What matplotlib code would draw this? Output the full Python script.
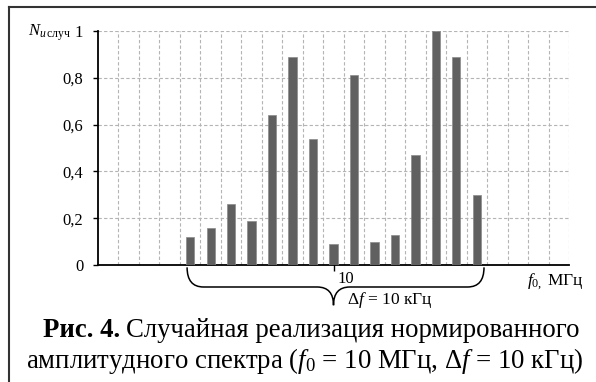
import matplotlib.pyplot as plt
from matplotlib.lines import Line2D
from matplotlib.path import Path
from matplotlib.patches import PathPatch

plt.rcParams['font.family'] = ['Liberation Serif', 'DejaVu Serif']
plt.rcParams['mathtext.fontset'] = 'custom'
plt.rcParams['mathtext.rm'] = 'Liberation Serif'
plt.rcParams['mathtext.it'] = 'Liberation Serif:italic'
plt.rcParams['mathtext.bf'] = 'Liberation Serif:bold'

# spectrum: 23 frequency slots, 15 of them filled (slot 11 is f0 = 10 MHz)
n_slots = 23
slots = list(range(4, 19))
amps = [0.12, 0.16, 0.26, 0.19, 0.64, 0.89, 0.54, 0.09,
        0.81, 0.10, 0.13, 0.47, 1.00, 0.89, 0.30]
center_slot = 11
center_label = "10"
y_ticks = [0, 0.2, 0.4, 0.6, 0.8, 1]
y_labels = ["0", "0,2", "0,4", "0,6", "0,8", "1"]

W, H = 596, 382
fig = plt.figure(figsize=(W / 100, H / 100), dpi=100)
ax = fig.add_axes([98 / W, 117 / H, 471 / W, 234 / H])

ax.bar(slots, amps, width=0.4, color="#606060", edgecolor="#8a8a8a",
       linewidth=0.5, zorder=3)

ax.set_xlim(-0.5, n_slots - 0.5)
ax.set_ylim(0, 1)

# dashed grid on slot borders and on the y ticks
ax.set_xticks([k - 0.5 for k in range(1, n_slots + 1)], minor=True)
ax.grid(True, which="minor", axis="x", color="#b4b4b4", linestyle=(0, (3, 2)),
        linewidth=0.8)
ax.grid(True, which="major", axis="y", color="#b4b4b4", linestyle=(0, (3, 2)),
        linewidth=0.8)
ax.tick_params(axis="x", which="minor", length=0)

ax.set_xticks([center_slot])
ax.set_xticklabels([""])
ax.tick_params(axis="x", which="major", direction="inout", length=8, width=1)
ax.text(center_slot + 0.2, -0.025, center_label, ha="left", va="top",
        fontsize=12)

ax.set_yticks(y_ticks)
ax.set_yticklabels(y_labels, fontsize=12)
ax.tick_params(axis="y", direction="out", length=3.6, width=1, pad=7)

for s in ["top", "right"]:
    ax.spines[s].set_visible(False)
for s in ["left", "bottom"]:
    ax.spines[s].set_linewidth(1.3)
    ax.spines[s].set_color("black")

# y axis name to the left of the "1"
fig.text(28 / W, 1 - 36 / H, r"$N_{\mathit{и}\,\mathrm{случ}}$",
         ha="left", va="baseline", fontsize=12)

# x axis name
fig.text(527 / W, 1 - 285 / H, r"$f_{0,}$ МГц", ha="left", va="baseline",
         fontsize=12.5)

# brace under the filled slots
xl, xr, xc = 3.85, 18.35, center_slot
y0, y1, y2 = -0.01, -0.094, -0.172
verts = [(xl, y0), (xl, y1), (xl + 0.8, y1), (xc - 0.8, y1),
         (xc, y1), (xc, y2), (xc, y1), (xc + 0.8, y1),
         (xr - 0.8, y1), (xr, y1), (xr, y0)]
codes = [Path.MOVETO, Path.CURVE3, Path.CURVE3, Path.LINETO,
         Path.CURVE3, Path.CURVE3, Path.CURVE3, Path.CURVE3,
         Path.LINETO, Path.CURVE3, Path.CURVE3]
ax.add_patch(PathPatch(Path(verts, codes), facecolor="none",
                       edgecolor="black", linewidth=1.1, clip_on=False))
fig.text(347 / W, 1 - 304 / H, r"$\Delta f$ = 10 кГц", ha="left",
         va="baseline", fontsize=12.5)

# frame
fig.add_artist(Line2D([9 / W, 1], [1 - 7 / H, 1 - 7 / H],
                      color="#333333", linewidth=1.5))
fig.add_artist(Line2D([9 / W, 9 / W], [0, 1 - 7 / H],
                      color="#333333", linewidth=1.5))

# caption: bold "Рис. 4." + regular text, line centred at x = 311
fig.canvas.draw()
r = fig.canvas.get_renderer()
cap_size = 19.3
t1 = fig.text(0, 1 - 337 / H, "Рис. 4.", fontsize=cap_size,
              fontweight="bold", va="baseline", ha="left")
t2 = fig.text(0, 1 - 337 / H, "Случайная реализация нормированного",
              fontsize=cap_size, va="baseline", ha="left")
w1 = t1.get_window_extent(r).width
w2 = t2.get_window_extent(r).width
gap = 6
x_start = 311 - (w1 + gap + w2) / 2
t1.set_x(x_start / W)
t2.set_x((x_start + w1 + gap) / W)
fig.text(305 / W, 1 - 368 / H,
         r"амплитудного спектра ($f_0$ = 10 МГц, $\Delta f$ = 10 кГц)",
         fontsize=cap_size, va="baseline", ha="center")

fig.savefig("out.png", dpi=100)
